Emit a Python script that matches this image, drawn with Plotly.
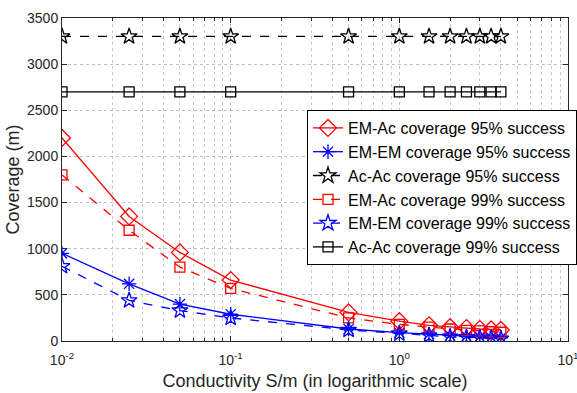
import plotly.graph_objects as go

x = [0.01, 0.025, 0.05, 0.1, 0.5, 1, 1.5, 2, 2.5, 3, 3.5, 4]
emac95 = [2200, 1350, 960, 660, 310, 215, 170, 150, 140, 130, 125, 120]
emem95 = [950, 620, 400, 290, 130, 90, 75, 60, 50, 45, 40, 35]
acac95 = [3300] * 12
emac99 = [1800, 1200, 800, 570, 250, 180, 150, 130, 115, 110, 100, 95]
emem99 = [810, 440, 330, 250, 120, 80, 60, 45, 40, 35, 30, 25]
acac99 = [2700] * 12

x_tickvals = [0.01, 0.1, 1, 10]
x_ticktext = ["10<sup>-2</sup>", "10<sup>-1</sup>", "10<sup>0</sup>", "10<sup>1</sup>"]
x_minor = [m * 10.0 ** e for e in (-2, -1, 0) for m in range(2, 10)]

series = [
    ("EM-Ac coverage 95% success", emac95, "red", "solid", "diamond-open", 13),
    ("EM-EM coverage 95% success", emem95, "blue", "solid", "asterisk-open", 12),
    ("Ac-Ac coverage 95% success", acac95, "black", "dash", "star-open", 12),
    ("EM-Ac coverage 99% success", emac99, "red", "dash", "square-open", 10),
    ("EM-EM coverage 99% success", emem99, "blue", "dash", "star-open", 12),
    ("Ac-Ac coverage 99% success", acac99, "black", "solid", "square-open", 10),
]

fig = go.Figure()
for name, y, c, dash, sym, sz in series:
    fig.add_trace(go.Scatter(
        x=x, y=y, name=name, mode="lines+markers",
        line=dict(color=c, width=1.3, dash=dash),
        marker=dict(symbol=sym, size=sz, color=c, line=dict(color=c, width=1.3)),
    ))

grid_major = "rgba(180,180,225,0.9)"
grid_minor = "rgba(195,195,195,0.9)"

fig.update_layout(
    width=577, height=393,
    margin=dict(l=62, r=9, t=18, b=52, autoexpand=False),
    paper_bgcolor="white", plot_bgcolor="white",
    font=dict(family="Liberation Sans, Arial, sans-serif", size=14, color="#262626"),
    legend=dict(
        x=(307 - 62) / 506, y=(341 - 110) / 323, xanchor="left", yanchor="top",
        bgcolor="white", bordercolor="black", borderwidth=1,
        font=dict(size=16, color="black"), tracegroupgap=0,
        itemwidth=30,
    ),
    showlegend=True,
)
fig.update_xaxes(
    type="log", range=[-2, 1], automargin=False,
    tickvals=x_tickvals, ticktext=x_ticktext,
    ticks="inside", ticklen=5, tickcolor="#262626",
    ticklabelstandoff=6, ticklabeloverflow="allow",
    showline=True, linecolor="#262626", linewidth=1, mirror="ticks",
    showgrid=True, gridcolor=grid_major, griddash="dot", gridwidth=1,
    minor=dict(tickmode="array", tickvals=x_minor, ticks="inside", ticklen=3,
               tickcolor="#262626", showgrid=True,
               gridcolor=grid_minor, griddash="dot", gridwidth=1),
    title=dict(text="Conductivity S/m (in logarithmic scale)", standoff=7,
               font=dict(size=18)),
    zeroline=False,
)
fig.update_yaxes(
    range=[0, 3500], dtick=500, automargin=False,
    ticks="inside", ticklen=5, tickcolor="#262626",
    showline=True, linecolor="#262626", linewidth=1, mirror="ticks",
    showgrid=True, gridcolor=grid_major, griddash="dot", gridwidth=1,
    title=dict(text="Coverage (m)", standoff=2, font=dict(size=18)),
    zeroline=False,
)

fig.write_html("out.html")
